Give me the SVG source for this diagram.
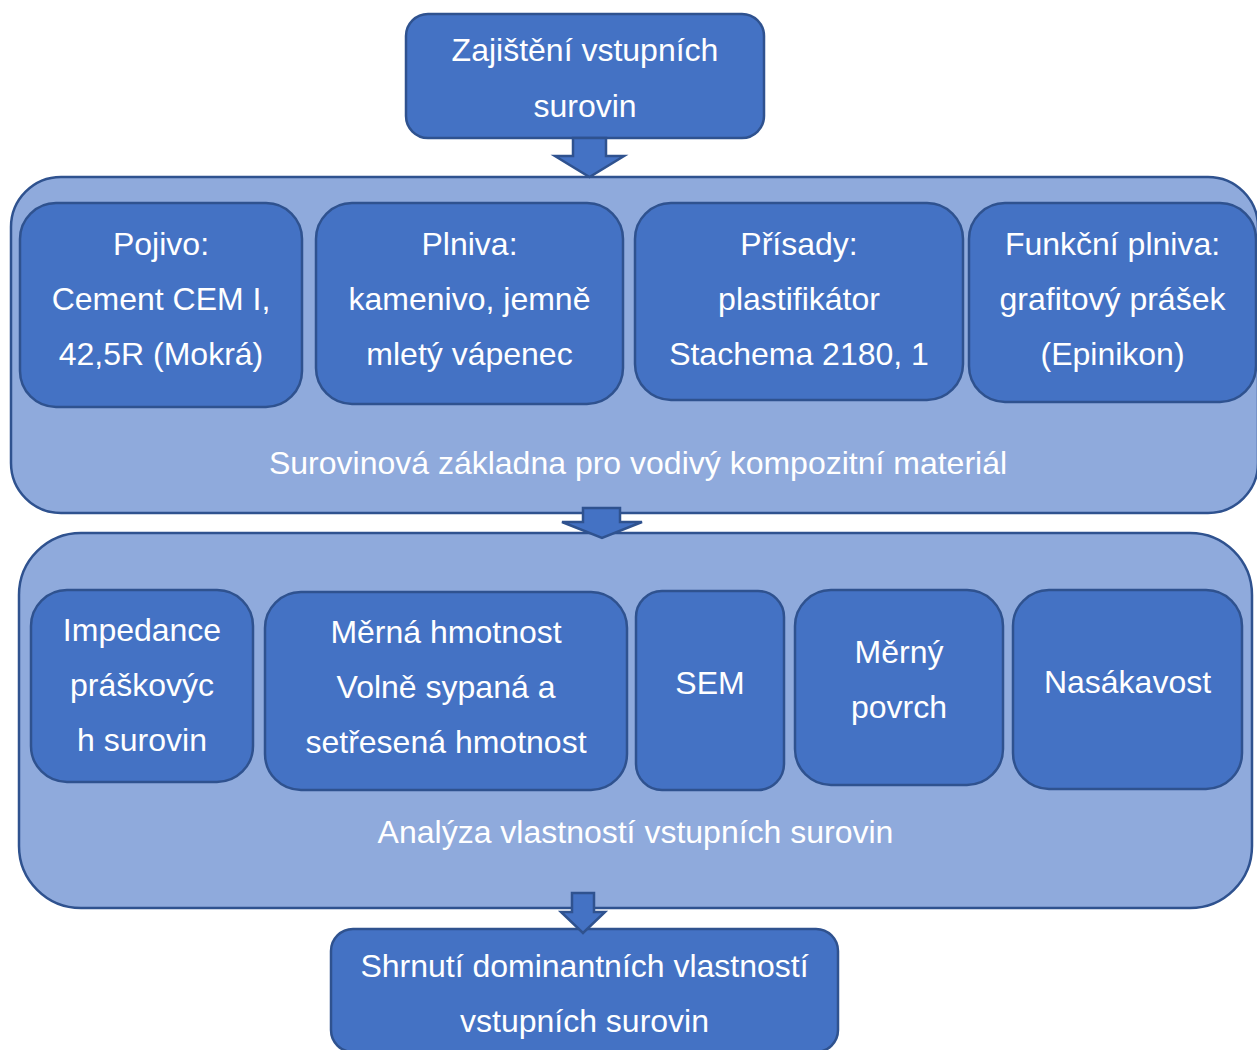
<svg xmlns="http://www.w3.org/2000/svg" width="1257" height="1050" viewBox="0 0 1257 1050">
<style>
.box{fill:#4472C4;stroke:#2F528F;stroke-width:2.5}
.cont{fill:#8FAADC;stroke:#2F528F;stroke-width:2.5}
.arr{fill:#4472C4;stroke:#2F528F;stroke-width:2.5;stroke-linejoin:miter}
text{font-family:"Liberation Sans",Arial,sans-serif;font-size:32px;fill:#FFFFFF;text-anchor:middle}
</style>
<rect width="1257" height="1050" fill="#FFFFFF"/>
<g id="node-top">
<rect class="box" x="406" y="14" width="358" height="124" rx="22"/>
<text x="585" y="61">Zajištění vstupních</text>
<text x="585" y="117">surovin</text>
</g>
<g id="container-1">
<rect class="cont" x="11" y="177" width="1247" height="336" rx="50"/>
<text x="638" y="474">Surovinová základna pro vodivý kompozitní materiál</text>
</g>
<g id="node-pojivo">
<rect class="box" x="20" y="203" width="282" height="204" rx="36"/>
<text x="161" y="255">Pojivo:</text>
<text x="161" y="310">Cement CEM I,</text>
<text x="161" y="365">42,5R (Mokrá)</text>
</g>
<g id="node-plniva">
<rect class="box" x="316" y="203" width="307" height="201" rx="36"/>
<text x="469.5" y="255">Plniva:</text>
<text x="469.5" y="310">kamenivo, jemně</text>
<text x="469.5" y="365">mletý vápenec</text>
</g>
<g id="node-prisady">
<rect class="box" x="635" y="203" width="328" height="197" rx="36"/>
<text x="799" y="255">Přísady:</text>
<text x="799" y="310">plastifikátor</text>
<text x="799" y="365">Stachema 2180, 1</text>
</g>
<g id="node-funkcni">
<rect class="box" x="969" y="203" width="287" height="199" rx="36"/>
<text x="1112.5" y="255">Funkční plniva:</text>
<text x="1112.5" y="310">grafitový prášek</text>
<text x="1112.5" y="365">(Epinikon)</text>
</g>
<g id="container-2">
<rect class="cont" x="19" y="533" width="1233" height="375" rx="62"/>
<text x="635.5" y="843">Analýza vlastností vstupních surovin</text>
</g>
<g id="node-impedance">
<rect class="box" x="31" y="590" width="222" height="192" rx="36"/>
<text x="142" y="641">Impedance</text>
<text x="142" y="696">práškovýc</text>
<text x="142" y="751">h surovin</text>
</g>
<g id="node-merna">
<rect class="box" x="265" y="592" width="362" height="198" rx="36"/>
<text x="446" y="643">Měrná hmotnost</text>
<text x="446" y="698">Volně sypaná a</text>
<text x="446" y="753">setřesená hmotnost</text>
</g>
<g id="node-sem">
<rect class="box" x="636" y="591" width="148" height="199" rx="26"/>
<text x="710" y="694">SEM</text>
</g>
<g id="node-povrch">
<rect class="box" x="795" y="590" width="208" height="195" rx="36"/>
<text x="899" y="663">Měrný</text>
<text x="899" y="718">povrch</text>
</g>
<g id="node-nasakavost">
<rect class="box" x="1013" y="590" width="229" height="199" rx="36"/>
<text x="1127.5" y="693">Nasákavost</text>
</g>
<g id="node-shrnuti">
<rect class="box" x="331" y="929" width="507" height="123" rx="22"/>
<text x="584.5" y="977">Shrnutí dominantních vlastností</text>
<text x="584.5" y="1032">vstupních surovin</text>
</g>
<g id="connectors">
<polygon class="arr" points="573,138 606,138 606,156 624,156 589.5,177 555,156 573,156"/>
<polygon class="arr" points="583,508 620,508 620,522 642,522 602,538 562,522 583,522"/>
<polygon class="arr" points="572,893 594,893 594,912 605,912 583,933 561,912 572,912"/>
</g>
</svg>
